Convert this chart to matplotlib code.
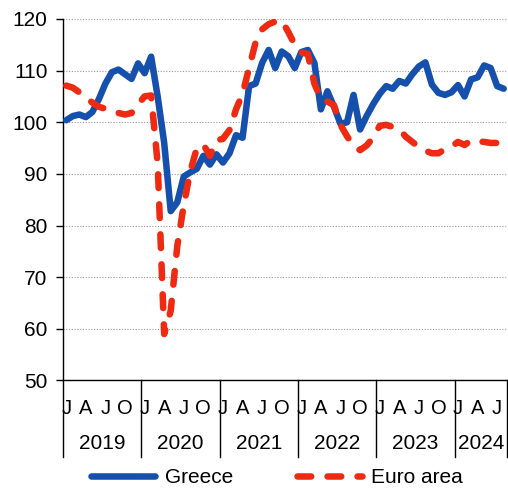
import matplotlib.pyplot as plt
import numpy as np
import pandas as pd

plt.rcParams['font.family'] = ['Liberation Sans', 'DejaVu Sans']

# monthly index, Jan 2019 - Aug 2024
months = pd.date_range('2019-01-01', '2024-08-01', freq='MS')

greece = [100.4, 101.2, 101.5, 101.0, 102.0, 104.5, 107.5, 109.7, 110.2, 109.3, 108.4, 111.4,
          109.5, 112.7, 105.0, 96.0, 82.8, 84.5, 89.5, 90.3, 91.0, 93.5, 91.8, 93.8,
          92.2, 94.0, 97.5, 97.0, 107.0, 107.5, 111.5, 114.0, 110.5, 113.7, 112.8, 110.5,
          113.6, 114.0, 111.5, 102.5, 106.0, 103.0, 99.7, 100.0, 105.3, 98.6, 101.2, 103.5,
          105.5, 107.0, 106.5, 108.0, 107.5, 109.3, 110.8, 111.6, 107.3, 105.7, 105.3, 105.8,
          107.2, 105.0, 108.3, 108.7, 111.0, 110.5, 107.0, 106.5]

euro = [107.1, 106.7, 105.8, 104.8, 103.8, 103.0, 102.6, 102.3, 101.8, 101.5, 101.8, 103.5,
        105.0, 105.2, 92.0, 59.0, 63.5, 76.0, 84.0, 90.5, 95.0, 95.7, 93.5, 96.5,
        96.8, 98.5, 102.5, 105.5, 110.5, 115.5, 118.0, 119.0, 119.5, 119.7, 117.5, 115.0,
        113.5, 113.2, 107.5, 104.5, 104.0, 103.3, 99.5, 97.3, 95.4, 94.6, 95.5, 97.0,
        99.3, 99.5, 99.1, 98.7, 97.2, 96.2, 95.2, 94.5, 94.0, 94.0, 94.8, 95.3,
        96.2, 95.6, 96.5, 96.3, 96.2, 96.0, 96.0, 96.6]

month_letters = {1: 'J', 4: 'A', 7: 'J', 10: 'O'}

blue = '#1450AC'
red = '#EE2B12'

x = np.arange(len(months))

fig = plt.figure(figsize=(5.08, 4.88), dpi=100)
ax = fig.add_axes([0.124, 0.2203, 0.874, 0.7408])

ax.plot(x, greece, color=blue, lw=4.7, solid_joinstyle='round', solid_capstyle='round',
        label='Greece', zorder=3)
ax.plot(x, euro, color=red, lw=4.7, dashes=(2.1, 2.5), dash_capstyle='round',
        dash_joinstyle='round', label='Euro area', zorder=4)

ax.set_xlim(-0.5, len(months) - 0.5)
ax.set_ylim(50, 120)
ax.set_yticks(range(50, 121, 10))
ax.tick_params(axis='y', labelsize=15, length=5, width=1, pad=6)

# grid
ax.yaxis.grid(True, linestyle=(0, (1, 1.5)), color='#999999', lw=0.8)
ax.set_axisbelow(True)

for side in ['top', 'right']:
    ax.spines[side].set_visible(False)
for side in ['left', 'bottom']:
    ax.spines[side].set_linewidth(1.0)
    ax.spines[side].set_color('black')

# month letters
qpos = [i for i, m in enumerate(months) if m.month in month_letters]
qlab = [month_letters[months[i].month] for i in qpos]
ax.set_xticks(qpos)
ax.set_xticklabels(qlab, fontsize=14.5)
ax.tick_params(axis='x', length=0, pad=13)

# year labels and separators
years = sorted(set(months.year))
trans = ax.get_xaxis_transform()
bounds = []
for yr in years:
    idx = [i for i, m in enumerate(months) if m.year == yr]
    ax.annotate(str(yr), xy=(np.mean(idx), 0), xycoords=trans,
                xytext=(0, -49), textcoords='offset points',
                ha='center', va='baseline', fontsize=15)
    bounds.append(idx[0] - 0.5)
bounds.append(len(months) - 0.5)
for b in bounds:
    ax.plot([b, b], [0, -0.213], transform=trans, color='black', lw=1.0, clip_on=False)

fig.legend(loc='center', bbox_to_anchor=(0.545, 0.0205), ncol=2, frameon=False,
           fontsize=15, handlelength=3.1, handletextpad=0.45, columnspacing=3.1,
           borderpad=0.1)

fig.savefig('out.png', dpi=100)
